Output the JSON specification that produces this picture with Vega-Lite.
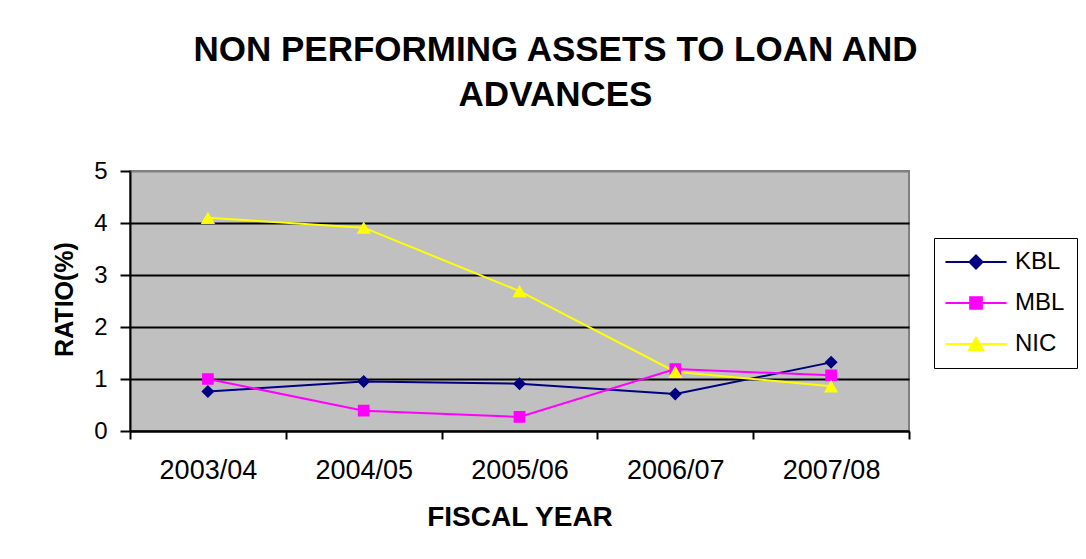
{
  "$schema": "https://vega.github.io/schema/vega-lite/v6.json",
  "width": 779,
  "height": 260,
  "autosize": {"type": "none"},
  "padding": {"left": 130, "top": 171, "right": 177, "bottom": 128},
  "background": "white",
  "title": {
    "text": ["NON PERFORMING ASSETS TO LOAN AND", "ADVANCES"],
    "font": "Liberation Sans",
    "fontSize": 35,
    "fontWeight": "bold",
    "color": "black",
    "anchor": "middle",
    "baseline": "bottom",
    "lineHeight": 44.5,
    "offset": 11.5,
    "dx": 36
  },
  "data": {
    "values": [
      {"year": "2003/04", "bank": "KBL", "ratio": 0.76},
      {"year": "2004/05", "bank": "KBL", "ratio": 0.95},
      {"year": "2005/06", "bank": "KBL", "ratio": 0.91},
      {"year": "2006/07", "bank": "KBL", "ratio": 0.71},
      {"year": "2007/08", "bank": "KBL", "ratio": 1.32},
      {"year": "2003/04", "bank": "MBL", "ratio": 1.0},
      {"year": "2004/05", "bank": "MBL", "ratio": 0.39},
      {"year": "2005/06", "bank": "MBL", "ratio": 0.27},
      {"year": "2006/07", "bank": "MBL", "ratio": 1.19},
      {"year": "2007/08", "bank": "MBL", "ratio": 1.07},
      {"year": "2003/04", "bank": "NIC", "ratio": 4.1},
      {"year": "2004/05", "bank": "NIC", "ratio": 3.91},
      {"year": "2005/06", "bank": "NIC", "ratio": 2.69},
      {"year": "2006/07", "bank": "NIC", "ratio": 1.14},
      {"year": "2007/08", "bank": "NIC", "ratio": 0.86}
    ]
  },
  "encoding": {
    "x": {
      "field": "year",
      "type": "nominal",
      "bandPosition": 0.5,
      "scale": {"type": "band", "paddingInner": 0, "paddingOuter": 0},
      "axis": {
        "title": "FISCAL YEAR",
        "titleFont": "Liberation Sans",
        "titleFontSize": 28,
        "titleFontWeight": "bold",
        "titleColor": "black",
        "titleBaseline": "alphabetic",
        "titleY": 94,
        "labelAngle": 0,
        "labelFont": "Liberation Sans",
        "labelFontSize": 27,
        "labelColor": "black",
        "labelPadding": 18,
        "tickBand": "extent",
        "tickSize": 8,
        "tickColor": "black",
        "tickWidth": 2,
        "domainColor": "black",
        "domainWidth": 2,
        "grid": false
      }
    },
    "y": {
      "field": "ratio",
      "type": "quantitative",
      "scale": {"domain": [0, 5], "nice": false},
      "axis": {
        "title": "RATIO(%)",
        "titleFont": "Liberation Sans",
        "titleFontSize": 25,
        "titleFontWeight": "bold",
        "titleColor": "black",
        "titleBaseline": "alphabetic",
        "titleX": -58,
        "titleY": 128,
        "values": [0, 1, 2, 3, 4, 5],
        "labelFont": "Liberation Sans",
        "labelFontSize": 24,
        "labelColor": "black",
        "labelPadding": 13,
        "tickSize": 10,
        "tickColor": "black",
        "tickWidth": 2,
        "domainColor": "black",
        "domainWidth": 2,
        "grid": true,
        "gridColor": {"condition": {"test": "datum.value == 5", "value": "#808080"}, "value": "black"},
        "gridWidth": 2,
        "gridOpacity": 1
      }
    },
    "color": {
      "field": "bank",
      "type": "nominal",
      "scale": {"domain": ["KBL", "MBL", "NIC"], "range": ["#000080", "#FF00FF", "#FFFF00"]},
      "legend": {
        "title": null,
        "orient": "none",
        "legendX": 804,
        "legendY": 67,
        "strokeColor": "black",
        "fillColor": "white",
        "padding": 12,
        "rowPadding": 17,
        "symbolSize": 169,
        "symbolOffset": 18,
        "symbolOpacity": 1,
        "symbolStrokeWidth": 2,
        "labelOffset": 27,
        "labelFont": "Liberation Sans",
        "labelFontSize": 24,
        "labelColor": "black"
      }
    }
  },
  "layer": [
    {
      "mark": {"type": "line", "strokeWidth": 2}
    },
    {
      "mark": {"type": "point", "filled": true, "opacity": 1, "size": 169, "strokeWidth": 0},
      "encoding": {
        "shape": {
          "field": "bank",
          "type": "nominal",
          "scale": {
            "domain": ["KBL", "MBL", "NIC"],
            "range": [
              "M-4.7,0H4.7M0,-1L1,0L0,1L-1,0Z",
              "M-4.7,0H4.7M-0.9,-0.9H0.9V0.9H-0.9Z",
              "M-4.7,0H4.7M0,-0.95L1.1,0.95H-1.1Z"
            ]
          },
          "legend": null
        }
      }
    }
  ],
  "config": {
    "view": {"fill": "#C0C0C0", "stroke": "#808080", "strokeWidth": 2}
  }
}
